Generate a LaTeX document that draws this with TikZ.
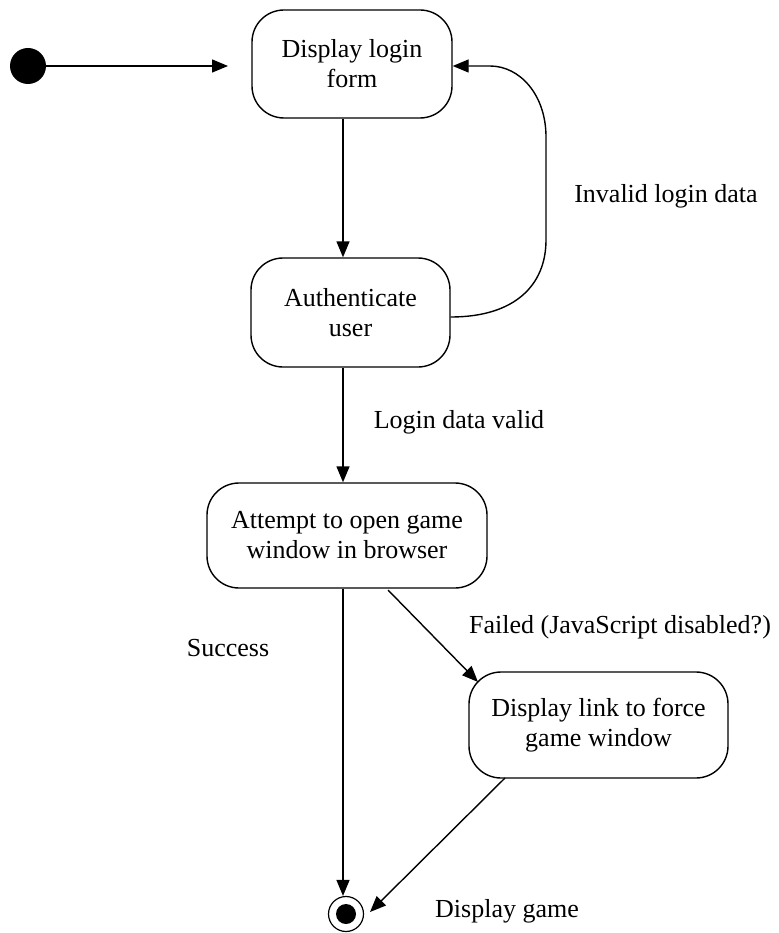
\documentclass[tikz,border=0pt]{standalone}
\usepackage{fontspec}
\setmainfont{Liberation Serif}
\usetikzlibrary{arrows.meta}
\begin{document}
\begin{tikzpicture}[x=1pt,y=-1pt,
  statebox/.style={draw=black, line width=1.4pt, rounded corners=32pt, align=center,
    inner sep=0pt, font=\fontsize{26}{30}\selectfont},
  lbl/.style={anchor=base, inner sep=0pt, font=\fontsize{26}{30}\selectfont},
  conn/.style={line width=1.4pt, -{Triangle[length=16pt,width=13pt]}},
]
\useasboundingbox (0,0) rectangle (778,933);
% start
\node (start) [circle, fill=black, minimum size=36pt, inner sep=0pt] at (28,66) {};
\coordinate (startend) at (228,66);
% states
\node (login) [statebox, minimum width=200pt, minimum height=108pt] at (352,64) {Display login\\form};
\node (auth) [statebox, minimum width=199pt, minimum height=109pt] at (350.5,312.5) {Authenticate\\user};
\node (open) [statebox, minimum width=280pt, minimum height=105pt] at (347,535.5) {Attempt to open game\\window in browser};
\node (link) [statebox, minimum width=259pt, minimum height=106pt] at (598.5,725) {Display link to force\\game window};
% end
\node (final) [circle, draw=black, line width=1.2pt, minimum size=35pt, inner sep=0pt] at (346,914) {};
\node (finaldot) [circle, fill=black, minimum size=20pt, inner sep=0pt] at (final.center) {};
% helper coordinates
\coordinate (lx) at (343,0);
\coordinate (loopA) at (546,240);
\coordinate (loopB) at (546,137);
\coordinate (loopC) at (490,66);
\coordinate (o1) at (388,590);
\coordinate (l1) at (478,682);
\coordinate (l2) at (505,778);
\coordinate (f1) at (370,912);
% connectors
\draw[conn] (start.east) -- (startend);
\draw[conn] (login.south -| lx) -- (auth.north -| lx);
\draw[conn] (auth.south -| lx) -- (open.north -| lx);
\draw[conn]
  (auth.east |- 0,317) .. controls (515,317) and (546,285) .. (loopA)
  -- (loopB) .. controls (546,95) and (520,66) .. (loopC) -- (login.east |- 0,66);
\draw[conn] (open.south -| lx) -- (final.north -| lx);
\draw[conn] (o1) -- (l1);
\draw[conn] (l2) -- (f1);
% labels
\node (t1) [lbl] at (666,203) {Invalid login data};
\node (t2) [lbl] at (459,428) {Login data valid};
\node (t3) [lbl] at (620,633) {Failed (JavaScript disabled?)};
\node (t4) [lbl] at (228,656) {Success};
\node (t5) [lbl] at (507,917) {Display game};
\end{tikzpicture}
\end{document}
